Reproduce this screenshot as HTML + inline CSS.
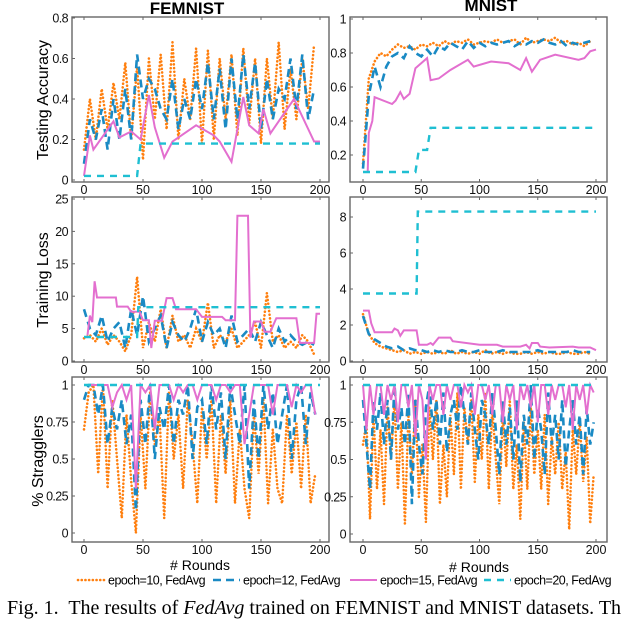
<!DOCTYPE html>
<html><head><meta charset="utf-8"><style>
html,body{margin:0;padding:0;background:#fff;width:640px;height:619px;overflow:hidden}
svg text{font-family:"Liberation Sans",Arial,sans-serif}
</style></head><body>
<svg id="fig" width="640" height="619" viewBox="0 0 640 619" xmlns="http://www.w3.org/2000/svg"></svg>
<script>
// ---- data ----
const accFemOrange=[0.15,0.4,0.2,0.45,0.25,0.48,0.3,0.58,0.2,0.56,0.1,0.6,0.3,0.62,0.25,0.68,0.2,0.5,0.3,0.65,0.18,0.64,0.2,0.6,0.3,0.62,0.22,0.65,0.28,0.6,0.18,0.6,0.3,0.68,0.25,0.55,0.3,0.6,0.35,0.67];
const accFemBlue=[0.08,0.3,0.2,0.35,0.15,0.4,0.2,0.45,0.2,0.62,0.4,0.5,0.45,0.35,0.3,0.5,0.25,0.4,0.3,0.5,0.35,0.58,0.3,0.55,0.25,0.6,0.3,0.62,0.35,0.58,0.25,0.5,0.3,0.45,0.4,0.6,0.35,0.62,0.3,0.45];
const accFemPinkX=[0,5,8,25,30,40,48,55,60,68,75,95,110,115,125,135,140,148,152,158,178,195,200];
const accFemPinkY=[0.02,0.22,0.15,0.29,0.21,0.24,0.2,0.42,0.26,0.11,0.19,0.27,0.22,0.19,0.09,0.41,0.27,0.23,0.35,0.23,0.4,0.19,0.19];
const accFemCyanX=[0,45,48,200];
const accFemCyanY=[0.02,0.02,0.18,0.18];
const accMnOrange=[0.15,0.65,0.75,0.8,0.78,0.82,0.85,0.83,0.84,0.82,0.85,0.84,0.86,0.84,0.87,0.85,0.87,0.86,0.88,0.85,0.86,0.87,0.86,0.88,0.86,0.87,0.88,0.85,0.89,0.86,0.87,0.88,0.87,0.89,0.86,0.87,0.85,0.86,0.84,0.87];
const accMnBlue=[0.12,0.55,0.72,0.6,0.72,0.78,0.8,0.77,0.84,0.8,0.78,0.82,0.78,0.84,0.82,0.86,0.84,0.82,0.87,0.83,0.86,0.84,0.86,0.85,0.86,0.87,0.84,0.86,0.85,0.87,0.86,0.88,0.86,0.85,0.87,0.84,0.86,0.85,0.86,0.87];
const accMnPinkX=[0,4,5,8,10,25,28,32,35,40,45,55,58,65,75,90,95,110,125,135,140,145,152,165,185,190,195,200];
const accMnPinkY=[0.1,0.1,0.33,0.4,0.54,0.5,0.52,0.57,0.53,0.56,0.71,0.77,0.64,0.65,0.7,0.76,0.72,0.75,0.74,0.7,0.77,0.69,0.76,0.79,0.76,0.77,0.81,0.82];
const accMnCyanX=[0,45,48,55,58,200];
const accMnCyanY=[0.1,0.1,0.23,0.23,0.36,0.36];
const lossFemOrange=[3.5,4,3,5,2.5,4,3,1.5,4,13,2,6,3,8,2,7,3,4,2,5,3,9,2,4,3,5,2,3,4,6,2,10.5,3,4,2,3,2,4,3,1];
const lossFemBlue=[8,5,4,7,3,5,6,2,8,4,10,3,5,7,2,6,4,3,5,8,3,6,4,5,2,7,3,4,5,3,6,4,2,5,3,4,3,2.5,3,2.5];
const lossFemPinkX=[3,5,7,9,11,27,28,37,40,47,50,55,57,60,66,70,75,78,95,100,117,120,128,130,139,141,144,150,153,158,163,180,183,195,197,200];
const lossFemPinkY=[4,7,6,12.3,9.8,9.8,8.4,8.4,7.6,7.6,6.3,6.3,2,6.2,6.2,9.7,9.7,8,8,6.8,6.8,6.3,6.3,22.4,22.4,3.6,6.1,6.1,4.5,4.5,6.6,6.6,2.8,2.8,7.3,7.3];
const lossFemCyanX=[0,45,46,200];
const lossFemCyanY=[3.7,3.7,8.3,8.3];
const lossMnOrange=[2.6,1.5,1,0.8,0.7,0.6,0.5,0.6,0.4,0.5,0.4,0.5,0.4,0.5,0.4,0.6,0.4,0.5,0.4,0.5,0.4,0.6,0.4,0.5,0.4,0.5,0.4,0.4,0.5,0.4,0.5,0.4,0.5,0.4,0.4,0.5,0.4,0.4,0.5,0.4];
const lossMnBlue=[2.5,1.5,1.2,1,0.8,0.7,0.8,0.6,0.7,0.6,0.6,0.5,0.6,0.5,0.6,0.5,0.5,0.6,0.5,0.5,0.6,0.5,0.5,0.5,0.6,0.5,0.5,0.5,0.5,0.5,0.6,0.5,0.5,0.5,0.5,0.5,0.6,0.5,0.5,0.5];
const lossMnPinkX=[0,5,7,10,25,27,30,32,35,46,48,55,58,60,65,75,77,100,115,120,135,140,143,145,150,152,160,180,185,195,200];
const lossMnPinkY=[2.8,2.8,2.1,1.6,1.6,1.8,1.7,1.4,1.7,1.7,0.9,0.9,1,0.9,1.3,1.3,1.1,0.9,0.9,0.8,0.8,0.9,0.7,1,1,0.8,0.75,0.8,0.75,0.75,0.6];
const lossMnCyanX=[0,46,47,200];
const lossMnCyanY=[3.75,3.75,8.3,8.3];
const strFemOrange=[0.7,0.95,1,0.4,1,0.3,0.9,0.5,0.1,0.8,0.35,0,0.8,0.3,0.95,0.6,0.8,0.1,0.95,0.5,0.8,0.3,0.9,0.6,0.2,0.85,0.5,0.9,0.2,0.8,0.4,0.9,0.2,0.7,0.3,0.1,0.8,0.4,0.9,0.2,0.7,0.3,0.2,0.8,0.4,0.75,0.3,0.8,0.2,0.4];
const strFemBlue=[0.9,1,1,0.8,1,0.6,0.85,0.7,0.9,0.6,0.8,0.15,0.9,0.6,1,0.5,0.85,0.7,1,0.6,0.9,0.8,1,0.5,0.85,0.9,0.6,1,0.7,0.95,0.5,1,0.8,0.6,1,0.3,0.9,0.5,1,0.7,0.95,0.6,0.8,1,0.5,0.9,1,0.6,0.95,0.8];
const strFemPink=[1,1,1,1,1,1,0.85,0.95,1,0.9,1,0.3,1,0.95,1,0.7,1,1,1,0.9,1,0.95,1,1,0.9,1,1,1,0.9,1,1,0.95,1,1,0.6,0.8,1,1,1,1,0.8,1,1,1,0.85,1,0.95,1,1,0.8];
const strFemCyanX=[0,200];
const strFemCyanY=[1,1];
const strMnOrange=[0.6,0.75,0.1,0.8,0.3,0.7,0.2,0.85,0.5,0.9,0.3,0.75,0.07,0.8,0.4,0.9,0.25,0.6,0.08,0.85,0.5,0.9,0.2,0.6,0.25,0.8,0.4,0.95,0.3,0.85,0.6,0.9,0.35,0.8,0.5,0.95,0.3,0.85,0.5,0.2,0.8,0.45,0.9,0.3,0.6,0.1,0.75,0.3,0.85,0.4,0.7,0.3,0.8,0.2,0.65,0.4,0.75,0.3,0.55,0.03,0.7,0.4,0.75,0.35,0.65,0.07,0.4];
const strMnBlue=[0.9,0.6,0.3,0.9,0.7,0.95,0.6,0.9,0.5,1,0.7,0.85,0.6,0.95,0.2,0.9,0.6,0.4,0.85,1,0.7,0.9,0.6,0.95,0.55,0.8,0.9,0.7,1,0.8,0.6,0.95,0.7,0.5,0.9,0.8,0.6,0.95,0.7,0.4,0.9,0.6,0.85,0.5,0.9,0.35,0.8,0.6,1,0.5,0.85,0.7,0.4,0.95,0.6,0.8,0.5,0.9,0.45,0.7,0.9,0.6,0.8,0.4,0.85,0.6,0.75];
const strMnPink=[1,0.7,1,0.8,1,1,0.8,1,0.9,1,0.75,1,1,0.85,1,0.65,1,0.9,0.5,1,0.9,1,1,0.8,1,0.9,1,1,0.85,1,0.95,1,0.8,1,1,0.9,1,0.8,1,1,0.75,1,0.9,1,0.7,1,0.9,1,0.85,1,0.75,1,1,0.8,1,0.9,1,1,0.85,1,0.7,1,0.9,1,0.8,1,0.95];
const strMnCyanX=[0,200];
const strMnCyanY=[1,1];
const xTicks=[0,50,100,150,200];
const yTicksAccFem=[0,0.2,0.4,0.6,0.8];
const yTicksAccMn=[0.2,0.4,0.6,0.8,1];
const yTicksLossFem=[0,5,10,15,20,25];
const yTicksLossMn=[0,2,4,6,8];
const yTicksStr=[0,0.25,0.5,0.75,1];
const yTickLabelsStr=["0","0.25","0.5","0.75","1"];

// ---- drawing ----
const NS="http://www.w3.org/2000/svg";
const svg=document.getElementById('fig');
function mk(tag,attrs,parent){const e=document.createElementNS(NS,tag);for(const k in attrs)e.setAttribute(k,attrs[k]);(parent||svg).appendChild(e);return e;}
const C={orange:'#ff7f0e',blue:'#1a8ac4',pink:'#e36fcf',cyan:'#1fbfd2'};
const STY={
 orange:{stroke:C.orange,'stroke-width':2.6,'stroke-dasharray':'0.1 3.6','stroke-linecap':'round'},
 blue:{stroke:C.blue,'stroke-width':2.6,'stroke-dasharray':'8 5'},
 pink:{stroke:C.pink,'stroke-width':2},
 cyan:{stroke:C.cyan,'stroke-width':2.4,'stroke-dasharray':'7 6'}
};
function panel(name,box,x0,x1,ymin,ymax,yv0,yv1,yticks,ylabels){
 const g=mk('g',{});
 
 
 const xs=v=>x0+(v/200)*(x1-x0);
 const ys=v=>yv0+(v-ymin)/(ymax-ymin)*(yv1-yv0);
 const r=mk('rect',{x:box[0],y:box[1],width:box[2]-box[0],height:box[3]-box[1],fill:'#fff',stroke:'#666','stroke-width':1.4},g);
 
 
 xTicks.forEach(t=>{
  const tx=mk('text',{x:xs(t),y:box[3]+12,'font-size':12.5,'text-anchor':'middle',fill:'#111'},g);tx.textContent=t;
  
  
  mk('line',{x1:xs(t),x2:xs(t),y1:box[3],y2:box[3]-3,stroke:'#666'},g);
  mk('line',{x1:xs(t),x2:xs(t),y1:box[1],y2:box[1]+3,stroke:'#666'},g);
 });
 yticks.forEach((t,i)=>{
  const ty=mk('text',{x:box[0]-4,y:ys(t)+4.5,'font-size':12.5,'letter-spacing':'-0.6','text-anchor':'end',fill:'#111'},g);ty.textContent=ylabels?ylabels[i]:t;
  
  
  mk('line',{x1:box[0],x2:box[0]+3,y1:ys(t),y2:ys(t),stroke:'#666'},g);
 });
 const clip='c'+name;
 const cp=mk('clipPath',{id:clip},g);mk('rect',{x:box[0],y:box[1],width:box[2]-box[0],height:box[3]-box[1]},cp);
 const sg=mk('g',{'clip-path':'url(#'+clip+')'},g);
 return {
  series(nm,vals,step,sty){
   const d=vals.map((v,i)=>(i?'L':'M')+xs(i*step).toFixed(1)+','+ys(v).toFixed(1)).join('');
   const p=mk('path',Object.assign({d:d,fill:'none'},STY[sty]),sg);
   
   
  },
  xy(nm,X,Y,sty){
   const d=X.map((v,i)=>(i?'L':'M')+xs(v).toFixed(1)+','+ys(Y[i]).toFixed(1)).join('');
   const p=mk('path',Object.assign({d:d,fill:'none'},STY[sty]),sg);
   
   
  }
 };
}
const LB=[72,329],RB=[350,607];
const LX=[84,320],RX=[363,596];
let p;
p=panel('femnist-accuracy-panel',[LB[0],17,LB[1],182],LX[0],LX[1],0,0.8,180,18,yTicksAccFem);
p.series('femnist-acc-epoch10',accFemOrange,5,'orange');p.series('femnist-acc-epoch12',accFemBlue,5,'blue');
p.xy('femnist-acc-epoch15',accFemPinkX,accFemPinkY,'pink');p.xy('femnist-acc-epoch20',accFemCyanX,accFemCyanY,'cyan');
p=panel('mnist-accuracy-panel',[RB[0],17,RB[1],182],RX[0],RX[1],0.2,1,155,19,yTicksAccMn);
p.series('mnist-acc-epoch10',accMnOrange,5,'orange');p.series('mnist-acc-epoch12',accMnBlue,5,'blue');
p.xy('mnist-acc-epoch15',accMnPinkX,accMnPinkY,'pink');p.xy('mnist-acc-epoch20',accMnCyanX,accMnCyanY,'cyan');
p=panel('femnist-loss-panel',[LB[0],197,LB[1],362],LX[0],LX[1],0,25,361,199,yTicksLossFem);
p.series('femnist-loss-epoch10',lossFemOrange,5,'orange');p.series('femnist-loss-epoch12',lossFemBlue,5,'blue');
p.xy('femnist-loss-epoch15',lossFemPinkX,lossFemPinkY,'pink');p.xy('femnist-loss-epoch20',lossFemCyanX,lossFemCyanY,'cyan');
p=panel('mnist-loss-panel',[RB[0],197,RB[1],362],RX[0],RX[1],0,8,361,217,yTicksLossMn);
p.series('mnist-loss-epoch10',lossMnOrange,5,'orange');p.series('mnist-loss-epoch12',lossMnBlue,5,'blue');
p.xy('mnist-loss-epoch15',lossMnPinkX,lossMnPinkY,'pink');p.xy('mnist-loss-epoch20',lossMnCyanX,lossMnCyanY,'cyan');
p=panel('femnist-stragglers-panel',[LB[0],377,LB[1],542],LX[0],LX[1],0,1,533,385,yTicksStr,yTickLabelsStr);
p.series('femnist-str-epoch10',strFemOrange,4,'orange');p.series('femnist-str-epoch12',strFemBlue,4,'blue');
p.series('femnist-str-epoch15',strFemPink,4,'pink');p.xy('femnist-str-epoch20',strFemCyanX,strFemCyanY,'cyan');
p=panel('mnist-stragglers-panel',[RB[0],377,RB[1],542],RX[0],RX[1],0,1,534,385,yTicksStr,yTickLabelsStr);
p.series('mnist-str-epoch10',strMnOrange,3,'orange');p.series('mnist-str-epoch12',strMnBlue,3,'blue');
p.series('mnist-str-epoch15',strMnPink,3,'pink');p.xy('mnist-str-epoch20',strMnCyanX,strMnCyanY,'cyan');

function txt(nm,s,attrs){const t=mk('text',attrs);t.textContent=s;
 
 return t;}
txt('femnist-title','FEMNIST',{x:187,y:14,'font-size':17,'font-weight':'bold','text-anchor':'middle'});
txt('mnist-title','MNIST',{x:491,y:11,'font-size':17,'font-weight':'bold','text-anchor':'middle'});
txt('y-axis-title-accuracy','Testing Accuracy',{x:0,y:0,'font-size':16,'text-anchor':'middle',transform:'translate(48,100) rotate(-90)'});
txt('y-axis-title-loss','Training Loss',{x:0,y:0,'font-size':16,'text-anchor':'middle',transform:'translate(48,280) rotate(-90)'});
txt('y-axis-title-stragglers','% Stragglers',{x:0,y:0,'font-size':16,'text-anchor':'middle',transform:'translate(43,461) rotate(-90)'});
txt('x-axis-title-left','# Rounds',{x:200,y:570,'font-size':14,'text-anchor':'middle'});
txt('x-axis-title-right','# Rounds',{x:479,y:572,'font-size':14,'text-anchor':'middle'});
const legendNames=['epoch=10, FedAvg','epoch=12, FedAvg','epoch=15, FedAvg','epoch=20, FedAvg'];
const legendKeys=['orange','blue','pink','cyan'];
const legendX=[78,213,350,484];
legendNames.forEach((n,i)=>{
 const g=mk('g',{});
 
 
 mk('path',Object.assign({d:'M'+legendX[i]+',580L'+(legendX[i]+27)+',580',fill:'none'},STY[legendKeys[i]]),g);
 const t=mk('text',{x:legendX[i]+30,y:584.5,'font-size':12.5,'letter-spacing':'-0.5'},g);t.textContent=n;
});
const cap=mk('text',{x:7,y:614,'font-size':20,style:'font-family:"Liberation Serif",serif;white-space:pre'});


cap.innerHTML='Fig. 1.  The results of <tspan font-style="italic">FedAvg</tspan> trained on FEMNIST and MNIST datasets. Th';
</script>
</body></html>
